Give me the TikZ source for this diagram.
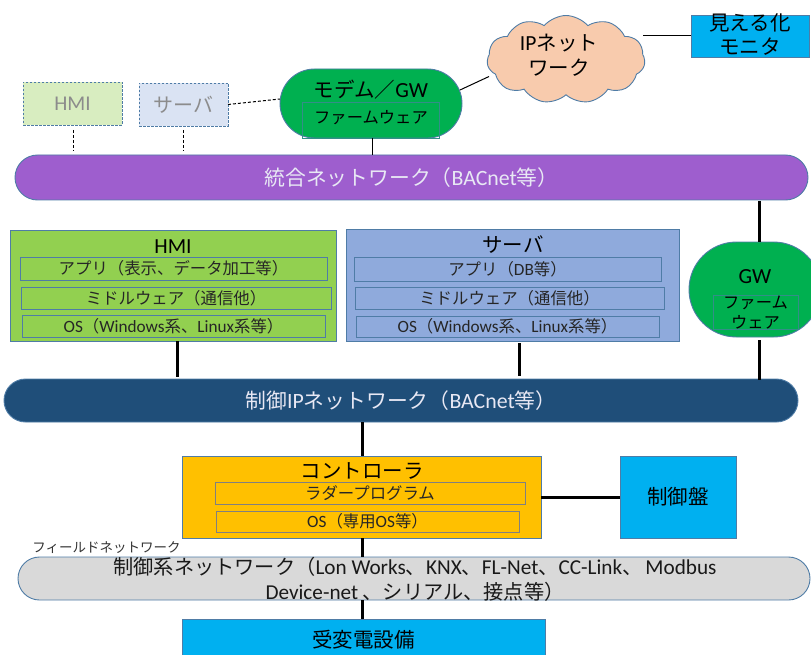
\documentclass[tikz,border=0pt]{standalone}
\usepackage{fontspec}
\usepackage{graphicx}
\setmainfont{Noto Sans CJK JP}
\newfontfamily\lat{Carlito}
\newcommand\La[1]{\scalebox{1.05}{\lat #1}}
\usetikzlibrary{shapes.misc,shapes.symbols}
\definecolor{edge}{HTML}{4F7CA6}
\definecolor{dimtext}{HTML}{8C8C8C}
\definecolor{pale}{HTML}{E8E8F4}
\definecolor{cGreenL}{HTML}{D8EDC0}
\definecolor{cBlueL}{HTML}{DAE3F3}
\definecolor{cGW}{HTML}{00B050}
\definecolor{cPurple}{HTML}{9E5ECE}
\definecolor{cHMI}{HTML}{92D050}
\definecolor{cSrv}{HTML}{8FAADC}
\definecolor{cNavy}{HTML}{1F4E79}
\definecolor{cGold}{HTML}{FFC000}
\definecolor{cCyan}{HTML}{00B0F0}
\definecolor{cGray}{HTML}{D9D9D9}
\definecolor{cCloud}{HTML}{F8CBAD}
\newcommand\fs[1]{\fontsize{#1}{#1}\selectfont}
\tikzset{
  x=1pt,y=-1pt,
  base/.style={inner sep=0pt,outer sep=0pt,draw=edge,line width=0.9pt,align=center,text=black},
  boxed/.style 2 args={base,rectangle,minimum width=#1,minimum height=#2},
  pill/.style 2 args={base,rounded rectangle,minimum width=#1,minimum height=#2},
  dashbox/.style 2 args={boxed={#1}{#2},dash pattern=on 2.5pt off 1.5pt,text=dimtext,font=\fs{20}},
  title/.style={inner sep=0pt,font=\fs{20.5},text=black,align=center},
  layer/.style 2 args={boxed={#1}{#2},font=\fs{16.4},text=black!85},
  onGreen/.style={draw=edge!65!cGW},
  thin line/.style={draw=black,line width=1pt},
  thick line/.style={draw=black,line width=3pt},
  dash line/.style={draw=black,line width=1pt,dash pattern=on 3pt off 2pt},
}
\begin{document}
\begin{tikzpicture}
\clip (0,0) rectangle (811,655);
% upper dashed boxes
\node[dashbox={99}{43},fill=cGreenL] (hmid) at (72.5,103.5) {\La{HMI}};
\node[dashbox={89}{43},fill=cBlueL] (srvd) at (183.5,104.5) {サーバ};
\coordinate (hmidA) at (73,130);
\coordinate (hmidB) at (73,151);
\coordinate (srvdA) at (183,130);
\coordinate (srvdB) at (183,151);
% modem
\node[pill={182}{69},fill=cGW] (modem) at (371,103.5) {};
\node[title] (modemT) at (371,90) {モデム／\La{GW}};
\node[boxed={137}{36},fill=none,onGreen,font=\fs{16}] (modemF) at (370.5,120) {};
\node[inner sep=0pt,font=\fs{16.3}] (modemFT) at (371,118) {ファームウェア};
% backbone
\node[pill={793}{45},fill=cPurple,text=pale,font=\fs{20.8}] (tougou) at (411.5,177.5) {統合ネットワーク（\La{BACnet}等）};
% cloud
\node[base,cloud,cloud puffs=11,cloud puff arc=100,aspect=2,minimum width=158,minimum height=88,fill=cCloud] (cloud) at (566,59.5) {};
\node[inner sep=0pt,font=\fontsize{20.5}{25}\selectfont,align=center] (cloudT) at (559,55.5) {\La{IP}ネット\\ワーク};
% monitor
\node[boxed={118}{42},fill=cCyan] (mon) at (750,36) {};
\node[inner sep=0pt,font=\fontsize{20.5}{24}\selectfont,align=center] (monT) at (750,34) {見える化\\モニタ};
% HMI
\node[boxed={326}{111},fill=cHMI] (hmi) at (173,285.5) {};
\node[title] (hmiT) at (173,247) {\La{HMI}};
\node[layer={307}{23}] (hmi1) at (173.5,268.5) {アプリ（表示、データ加工等）};
\node[layer={310}{22}] (hmi2) at (176,298) {ミドルウェア（通信他）};
\node[layer={303}{22}] (hmi3) at (173.5,326) {\La{OS}（\La{Windows}系、\La{Linux}系等）};
% Server
\node[boxed={333}{112},fill=cSrv] (srv) at (512.5,285) {};
\node[title] (srvT) at (513,244.5) {サーバ};
\node[layer={307}{24}] (srv1) at (507.5,269) {アプリ（\La{DB}等）};
\node[layer={309}{22}] (srv2) at (509.5,298) {ミドルウェア（通信他）};
\node[layer={303}{21}] (srv3) at (507.5,326.5) {\La{OS}（\La{Windows}系、\La{Linux}系等）};
% GW
\node[pill={132}{95},fill=cGW] (gw) at (755,289.5) {};
\node[title] (gwT) at (755,277) {\La{GW}};
\node[boxed={85}{34},fill=none,onGreen] (gwF) at (755.5,312) {};
\node[inner sep=0pt,font=\fontsize{16.3}{20}\selectfont,align=center] (gwFT) at (755.5,313) {ファーム\\ウェア};
% IP net
\node[pill={794}{43},fill=cNavy,text=pale,font=\fs{20.8}] (ipnet) at (401,400.5) {制御\La{IP}ネットワーク（\La{BACnet}等）};
% Controller
\node[boxed={359}{82},fill=cGold] (ctrl) at (361.5,497) {};
\node[title] (ctrlT) at (362,471) {コントローラ};
\node[layer={310}{22},fill=none,draw=gray] (ctrl1) at (370,493) {ラダープログラム};
\node[layer={303}{21},fill=none,draw=gray] (ctrl2) at (367.5,521.5) {\La{OS}（専用\La{OS}等）};
\node[boxed={116}{82},fill=cCyan,font=\fs{20.5}] (panel) at (678,497) {制御盤};
% field net
\node[pill={792}{43},fill=cGray] (field) at (414,578.5) {};
\node[boxed={363}{42},fill=cCyan,font=\fs{20.5}] (power) at (363.5,640) {受変電設備};
% connectors
\draw[dash line] (hmidA) -- (hmidB);
\draw[dash line] (srvdA) -- (srvdB);
\draw[dash line] (srvd.east) -- ([yshift=4.5]modem.west);
\draw[thin line] ([xshift=1]modem.south) -- ([xshift=-39.5]tougou.north);
\draw[thin line] ([xshift=89,yshift=13.5]modem.center) -- ([xshift=-77,yshift=-17]cloud.center);
\draw[thin line] ([xshift=77,yshift=23.5]cloud.center) -- (mon.west);
\draw[thick line] ([xshift=347.5,yshift=-1]tougou.south) -- ([xshift=4]gw.north);
\draw[thick line] ([xshift=4,yshift=-3]gw.south) -- ([xshift=358,yshift=-1]ipnet.north);
\draw[thick line] ([xshift=4.5]hmi.south) -- ([xshift=-223.5,yshift=2]ipnet.north);
\draw[thick line] ([xshift=6.5,yshift=-2]srv.south) -- ([xshift=118,yshift=3]ipnet.north);
\draw[thick line] ([xshift=-39]ipnet.south) -- ([xshift=0.5]ctrl.north);
\draw[thick line] (ctrl.east) -- (panel.west);
\draw[thick line] ([xshift=0.5]ctrl.south) -- ([xshift=-52]field.north);
\draw[thick line] ([xshift=-52]field.south) -- ([xshift=-1.5]power.north);
% field text above connectors
\node[inner sep=0pt,font=\fs{13.5},text=black!80] (fieldL) at (106.5,548) {フィールドネットワーク};
\node[inner sep=0pt,font=\fontsize{20.2}{25}\selectfont,align=center,text=black!90] (fieldT) at (415,579.5) {制御系ネットワーク（\La{Lon Works}、\La{KNX}、\La{FL-Net}、\La{CC-Link}、\hspace{3pt}\La{Modbus}\\\La{Device-net} 、シリアル、接点等）\hspace{16pt}};
\end{tikzpicture}
\end{document}
